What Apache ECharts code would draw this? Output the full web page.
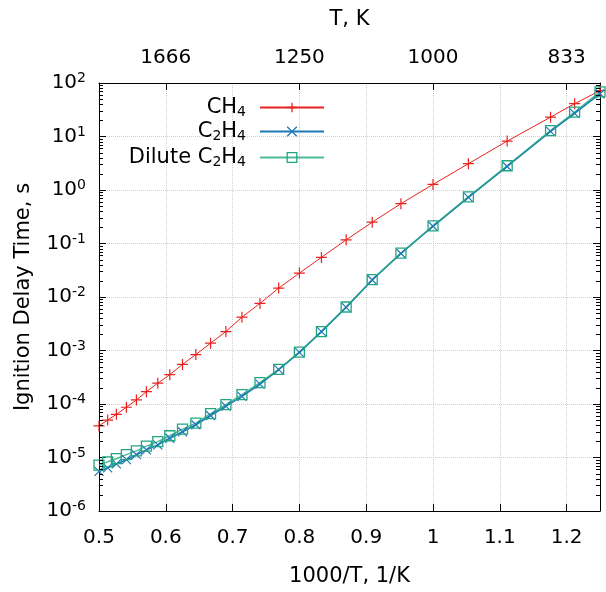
<!DOCTYPE html>
<html><head><meta charset="utf-8">
<script src="https://cdn.jsdelivr.net/npm/echarts@6/dist/echarts.min.js"></script>
<style>html,body{margin:0;padding:0;background:#fff}#c{width:606px;height:592px}</style>
</head><body><div id="c"></div>
<script>
// 1000/T values (1/K)
const invT = [0.5, 0.513, 0.526, 0.541, 0.556, 0.571, 0.588, 0.606, 0.625, 0.645, 0.667, 0.69, 0.714,
  0.741, 0.769, 0.8, 0.833, 0.87, 0.909, 0.952, 1.0, 1.053, 1.111, 1.176, 1.212, 1.25];
// Ignition delay times, s
const ch4 = [3.9e-5, 5.0e-5, 6.4e-5, 8.7e-5, 1.19e-4, 1.7e-4, 2.45e-4, 3.54e-4, 5.5e-4, 8.4e-4, 1.37e-3, 2.26e-3, 4.2e-3,
  7.6e-3, 1.47e-2, 2.8e-2, 5.5e-2, 0.117, 0.25, 0.555, 1.27, 3.1, 8.2, 23, 41, 72];
const c2h4 = [5.5e-6, 6.4e-6, 7.6e-6, 9.1e-6, 1.13e-5, 1.39e-5, 1.72e-5, 2.29e-5, 3.03e-5, 4.1e-5, 6.1e-5, 9.1e-5, 1.39e-4,
  2.35e-4, 4.4e-4, 9.2e-4, 2.25e-3, 6.4e-3, 2.08e-2, 6.5e-2, 0.21, 0.73, 2.75, 12.5, 27, 63];
const diluteC2H4 = [7.2e-6, 8.3e-6, 9.5e-6, 1.13e-5, 1.33e-5, 1.63e-5, 1.98e-5, 2.55e-5, 3.39e-5, 4.4e-5, 6.6e-5, 9.7e-5, 1.5e-4,
  2.5e-4, 4.45e-4, 9.3e-4, 2.26e-3, 6.5e-3, 2.11e-2, 6.6e-2, 0.214, 0.743, 2.84, 12.9, 28.5, 68];
const seriesNames = ['CH4', 'C2H4', 'Dilute C2H4'];
const legendLabels = ['CH{sub|4}', 'C{sub|2}H{sub|4}', 'Dilute C{sub|2}H{sub|4}'];
const bottomTicks = [0.5, 0.6, 0.7, 0.8, 0.9, 1.0, 1.1, 1.2];
const topTickPos = [0.6, 0.8, 1.0, 1.2];
const topTickLabels = ['1666', '1250', '1000', '833'];

// decorative minor tick positions on the log axis (2..9 x 10^n)
const minorTickVals = [];
for (let e = -6; e < 2; e++) for (let k = 2; k <= 9; k++) minorTickVals.push(k * Math.pow(10, e));

const FONT = 'DejaVu Sans';
const RED = '#e8221e', BLUE = '#1f78b8', GREEN = '#22a680';
const gridColor = '#cfcfcf';
const subRich = { sub: { fontSize: 14, fontFamily: FONT, verticalAlign: 'bottom', padding: [9, 0, 0, 0], color: '#000' } };

const plusPath = 'path://M0,5L10,5M5,0L5,10';
const crossPath = 'path://M0,0L10,10M0,10L10,0';

function mkData(arr) { return invT.map((x, i) => [x, arr[i]]); }

const chart = echarts.init(document.getElementById('c'), null, { renderer: 'canvas' });
const mkLegend = (i, top, color) => ({
  data: [seriesNames[i]], right: 281, top: top, orient: 'vertical', align: 'right',
  itemWidth: 64, itemHeight: 12, padding: 0,
  formatter: () => legendLabels[i],
  textStyle: { fontFamily: FONT, fontSize: 21, color: '#000', padding: [0, 9, 0, 0], rich: subRich },
  itemStyle: { borderColor: color, borderWidth: 1.3 },
  selectedMode: false
});
chart.setOption({
  animation: false,
  backgroundColor: '#fff',
  grid: { left: 99, right: 6, top: 83, bottom: 75, containLabel: false },
  legend: [
    mkLegend(0, 97, RED),
    mkLegend(1, 121, BLUE),
    mkLegend(2, 147, GREEN)
  ],
  xAxis: [
    {
      type: 'value', position: 'bottom', min: 0.5, max: 1.25,
      name: '1000/T, 1/K', nameLocation: 'middle', nameGap: 55,
      nameTextStyle: { fontFamily: FONT, fontSize: 21, color: '#000' },
      axisLine: { onZero: false, lineStyle: { color: '#000', width: 1 } },
      axisTick: { inside: true, length: 7, customValues: bottomTicks, lineStyle: { color: '#000' } },
      axisLabel: { customValues: bottomTicks, margin: 17, fontFamily: FONT, fontSize: 20, color: '#000',
        formatter: v => String(+(+v).toFixed(1)) },
      splitLine: { show: true, lineStyle: { color: gridColor, type: 'dotted', width: 1 } }
    },
    {
      type: 'value', position: 'top', min: 0.5, max: 1.25,
      name: 'T, K', nameLocation: 'middle', nameGap: 53,
      nameTextStyle: { fontFamily: FONT, fontSize: 21, color: '#000' },
      axisLine: { onZero: false, lineStyle: { color: '#000', width: 1 } },
      axisTick: { inside: true, length: 7, customValues: topTickPos, lineStyle: { color: '#000' } },
      axisLabel: { customValues: topTickPos, margin: 15, fontFamily: FONT, fontSize: 20, color: '#000',
        formatter: v => { const i = topTickPos.findIndex(p => Math.abs(p - v) < 1e-6); return i >= 0 ? topTickLabels[i] : ''; } },
      splitLine: { show: false }
    }
  ],
  yAxis: [
    {
      type: 'log', logBase: 10, position: 'left', min: 1e-6, max: 1e2, interval: 1,
      name: 'Ignition Delay Time, s', nameLocation: 'middle', nameGap: 65,
      nameTextStyle: { fontFamily: FONT, fontSize: 21, color: '#000' },
      axisLine: { show: true, onZero: false, lineStyle: { color: '#000', width: 1 } },
      axisTick: { inside: true, length: 7, lineStyle: { color: '#000' } },
      axisLabel: { margin: 13, fontFamily: FONT, fontSize: 20, color: '#000',
        formatter: v => '10{sup|' + Math.round(Math.log10(v)) + '}',
        rich: { sup: { fontSize: 14, fontFamily: FONT, color: '#000', verticalAlign: 'top', padding: [0, 0, 9, 0] } } },
      splitLine: { show: true, lineStyle: { color: gridColor, type: 'dotted', width: 1 } }
    },
    {
      type: 'log', logBase: 10, position: 'right', min: 1e-6, max: 1e2, interval: 1,
      axisLine: { show: true, onZero: false, lineStyle: { color: '#000', width: 1 } },
      axisTick: { inside: true, length: 7, lineStyle: { color: '#000' } },
      axisLabel: { show: false }, splitLine: { show: false }
    }
  ],
  series: [
    {
      name: 'minor ticks', type: 'custom', xAxisIndex: 0, yAxisIndex: 0, silent: true, clip: false, z: 5,
      data: minorTickVals.map(v => [0.5, v]),
      renderItem: (params, api) => {
        const y = Math.round(api.coord([0.5, api.value(1)])[1]) + 0.5;
        const cs = params.coordSys;
        return { type: 'group', children: [
          { type: 'line', shape: { x1: cs.x, y1: y, x2: cs.x + 4, y2: y }, style: { stroke: '#000', lineWidth: 1 } },
          { type: 'line', shape: { x1: cs.x + cs.width - 4, y1: y, x2: cs.x + cs.width, y2: y }, style: { stroke: '#000', lineWidth: 1 } }
        ] };
      }
    },
    {
      name: seriesNames[0], type: 'line', data: mkData(ch4), xAxisIndex: 0, yAxisIndex: 0,
      symbol: plusPath, symbolSize: 11, showAllSymbol: true, clip: true,
      lineStyle: { color: RED, width: 1 },
      itemStyle: { color: RED, borderColor: RED, borderWidth: 1.2 }
    },
    {
      name: seriesNames[1], type: 'line', data: mkData(c2h4), xAxisIndex: 0, yAxisIndex: 0,
      symbol: crossPath, symbolSize: 9, showAllSymbol: true, clip: true,
      lineStyle: { color: BLUE, width: 1.6 },
      itemStyle: { color: BLUE, borderColor: BLUE, borderWidth: 1.2 }
    },
    {
      name: seriesNames[2], type: 'line', data: mkData(diluteC2H4), xAxisIndex: 0, yAxisIndex: 0,
      symbol: 'rect', symbolSize: 10, showAllSymbol: true, clip: true,
      lineStyle: { color: GREEN, width: 1.5, opacity: 0.8 },
      itemStyle: { color: 'rgba(0,0,0,0)', borderColor: GREEN, borderWidth: 1.3 }
    }
  ]
});
</script></body></html>
